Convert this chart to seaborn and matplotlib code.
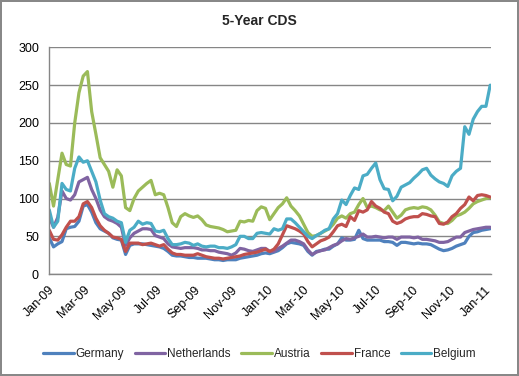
import pandas as pd
import seaborn as sns
import matplotlib.pyplot as plt
import matplotlib.dates as mdates

# weekly readings, Jan 2009 - Jan 2011
dates = pd.date_range("2009-01-02", "2011-01-09", periods=105)

germany = [48, 36, 40, 43, 60, 62, 63, 70, 90, 92, 82, 68, 60, 57, 54, 48, 46, 45, 26, 38,
           40, 40, 40, 39, 38, 37, 36, 34, 30, 25, 24, 24, 23, 22, 22, 21, 21, 21, 20, 19,
           19, 18, 19, 19, 19, 21, 22, 23, 24, 25, 27, 28, 27, 29, 31, 35, 40, 42, 41, 40,
           38, 30, 25, 30, 31, 33, 33, 37, 40, 48, 45, 45, 46, 58, 47, 45, 45, 45, 45, 43,
           43, 42, 38, 42, 42, 41, 40, 41, 40, 40, 39, 36, 33, 31, 32, 34, 37, 39, 41, 50,
           55, 56, 58, 59, 60]
netherlands = [75, 62, 75, 110, 100, 98, 105, 122, 125, 128, 112, 100, 85, 76, 72, 70, 67, 62, 38, 48,
               54, 57, 60, 60, 59, 51, 49, 47, 40, 36, 35, 34, 35, 35, 35, 34, 32, 32, 31, 31,
               29, 28, 27, 25, 28, 34, 33, 31, 30, 32, 34, 34, 30, 30, 34, 37, 41, 45, 45, 43,
               40, 32, 26, 29, 31, 32, 35, 38, 40, 44, 47, 46, 48, 50, 53, 49, 49, 50, 49, 48,
               49, 49, 46, 49, 49, 49, 48, 49, 46, 46, 45, 44, 42, 42, 43, 46, 49, 49, 55, 57,
               59, 60, 61, 62, 62]
austria = [120, 90, 125, 160, 145, 143, 200, 240, 262, 268, 215, 185, 154, 145, 136, 115, 138, 130, 88, 84,
           100, 110, 115, 120, 124, 105, 107, 105, 88, 68, 63, 76, 80, 77, 75, 77, 72, 65, 63, 62,
           61, 59, 56, 57, 58, 70, 69, 71, 70, 84, 89, 87, 72, 80, 88, 93, 101, 90, 84, 77,
           66, 55, 50, 51, 54, 57, 60, 66, 74, 77, 74, 80, 82, 92, 100, 88, 90, 88, 85, 84,
           90, 82, 74, 78, 85, 87, 88, 87, 89, 88, 85, 78, 69, 67, 67, 71, 77, 79, 82, 87,
           93, 96, 98, 100, 101]
france = [58, 46, 45, 52, 62, 70, 70, 76, 93, 96, 88, 74, 64, 58, 54, 49, 48, 46, 30, 41,
          41, 41, 39, 40, 41, 39, 37, 39, 33, 28, 26, 26, 25, 25, 25, 27, 25, 23, 22, 21,
          21, 20, 21, 22, 23, 24, 26, 27, 28, 29, 31, 33, 30, 33, 40, 52, 64, 62, 60, 57,
          53, 43, 36, 40, 44, 46, 49, 56, 64, 66, 63, 76, 71, 84, 82, 85, 96, 90, 87, 82,
          80, 70, 67, 69, 73, 75, 76, 76, 80, 79, 77, 76, 67, 66, 69, 76, 80, 87, 92, 102,
          97, 104, 105, 104, 102]
belgium = [85, 62, 70, 120, 112, 110, 140, 155, 148, 150, 136, 122, 98, 80, 76, 74, 70, 68, 42, 58,
           62, 70, 66, 68, 67, 57, 56, 58, 47, 39, 39, 40, 42, 41, 38, 40, 37, 36, 37, 37,
           35, 35, 34, 36, 39, 50, 50, 47, 47, 54, 55, 54, 53, 60, 58, 60, 73, 73, 68, 62,
           56, 50, 47, 51, 54, 58, 60, 73, 80, 98, 92, 104, 114, 112, 130, 132, 140, 147, 125, 113,
           112, 97, 103, 115, 118, 121, 127, 132, 138, 140, 131, 126, 122, 120, 116, 130, 136, 140, 195, 185,
           205, 215, 222, 222, 250]

countries = ["Germany", "Netherlands", "Austria", "France", "Belgium"]
colors = ["#4F81BD", "#8064A2", "#9BBB59", "#C0504D", "#4BACC6"]

df = pd.DataFrame({"Date": dates, "Germany": germany, "Netherlands": netherlands,
                   "Austria": austria, "France": france, "Belgium": belgium})
long_df = df.melt(id_vars="Date", var_name="Country", value_name="CDS")

sns.set_style("white")
plt.rcParams["font.family"] = ["Liberation Sans", "DejaVu Sans"]

fig = plt.figure(figsize=(5.19, 3.76), dpi=100)
fig.patch.set_edgecolor("#888888")
fig.patch.set_linewidth(1.5)
ax = fig.add_axes([0.0938, 0.271, 0.853, 0.603])

sns.lineplot(data=long_df, x="Date", y="CDS", hue="Country", hue_order=countries,
             palette=dict(zip(countries, colors)), linewidth=2.3, ax=ax, legend=False)

ax.set_ylim(0, 300)
ax.set_yticks(range(0, 301, 50))
ax.set_xlim(pd.Timestamp("2009-01-01"), pd.Timestamp("2011-01-11"))
ax.xaxis.set_major_locator(mdates.MonthLocator(bymonth=[1, 3, 5, 7, 9, 11]))
ax.xaxis.set_major_formatter(mdates.DateFormatter("%b-%y"))
plt.setp(ax.get_xticklabels(), rotation=45, ha="right", rotation_mode="anchor")

ax.grid(axis="y", color="#868686", linewidth=1)
ax.set_axisbelow(True)
for side in ["top", "right"]:
    ax.spines[side].set_visible(False)
for side in ["left", "bottom"]:
    ax.spines[side].set_color("#868686")
    ax.spines[side].set_linewidth(1)
ax.tick_params(axis="both", direction="out", length=4, width=1, color="#868686",
               labelsize=9, labelcolor="black", pad=3)
ax.set_xlabel("")
ax.set_ylabel("")

fig.text(0.5, 0.945, "5-Year CDS", ha="center", va="center", fontsize=10, fontweight="bold")

handles = [plt.Line2D([], [], color=c, linewidth=2.3) for c in colors]
fig.legend(handles, countries, loc="center", bbox_to_anchor=(0.5, 0.058), ncol=5,
           frameon=False, fontsize=8.5, handlelength=2.6, handletextpad=0.15,
           columnspacing=0.9, borderaxespad=0)

fig.savefig("out.png", dpi=100)
